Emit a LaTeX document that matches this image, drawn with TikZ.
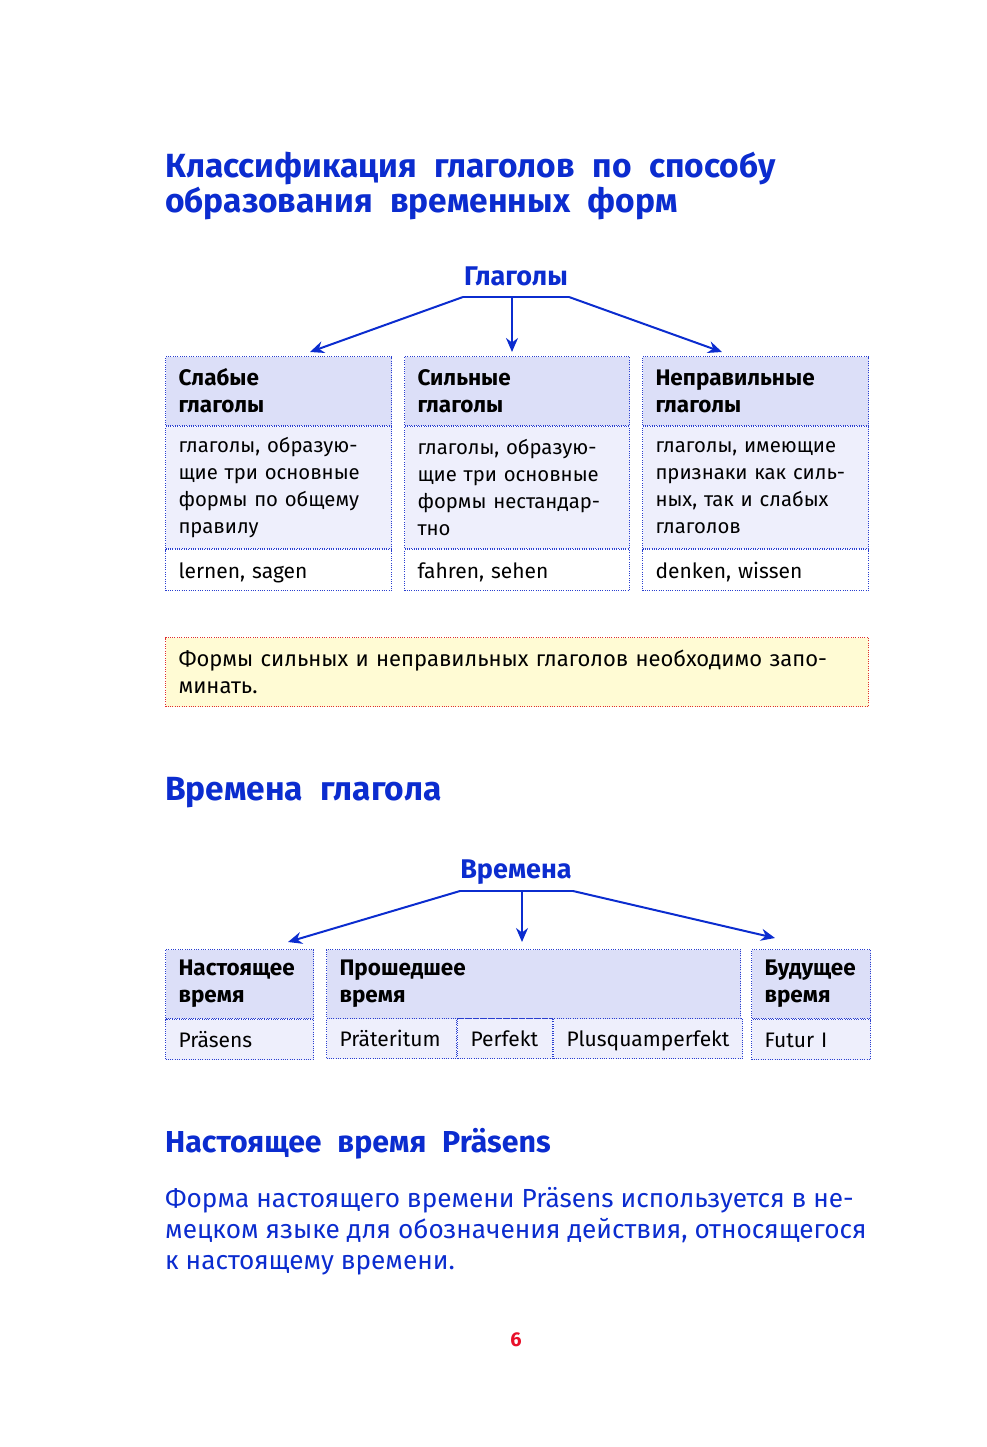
\documentclass[tikz,border=0pt]{standalone}
\usepackage{fontspec}
\setmainfont{Fira Sans}
\newfontfamily\headfont[WordSpace=2.2]{Fira Sans}
\usetikzlibrary{arrows.meta,positioning}
\definecolor{titleblue}{HTML}{0B2CCF}
\definecolor{cellline}{HTML}{2A3FD0}
\definecolor{hdrfill}{HTML}{DCDFF8}
\definecolor{bodyfill}{HTML}{EEEFFC}
\definecolor{notefill}{HTML}{FFFBD4}
\definecolor{notered}{HTML}{E03030}
\definecolor{pagered}{HTML}{E8102A}

\begin{document}
\begin{tikzpicture}[x=1pt,y=-1pt,node distance=0pt,
  title/.style={anchor=base west,inner sep=0pt,align=left,text=titleblue,
                font=\headfont\bfseries\fontsize{33.5}{35}\selectfont},
  root/.style={inner sep=0pt,text=titleblue,font=\bfseries\fontsize{27}{30}\selectfont},
  cell/.style={rectangle,draw=cellline,line width=1pt,dash pattern=on 1pt off 1.3pt,
               inner xsep=13pt,inner ysep=0pt,align=left,anchor=north west,
               font=\fontsize{20.3}{27}\selectfont},
  hdr/.style={cell,fill=hdrfill,minimum height=69pt,
              font=\bfseries\fontsize{22.5}{27}\selectfont},
  body/.style={cell,fill=bodyfill,minimum height=122pt},
  ex/.style={cell,fill=white,minimum height=41pt,text height=19pt,text depth=3pt,
             font=\fontsize{21}{27}\selectfont},
  row/.style={ex,fill=bodyfill,minimum height=40pt},
  arr/.style={draw=titleblue,line width=2pt,-{Stealth[length=14pt,width=12pt]}},
  bar/.style={draw=titleblue,line width=2pt}]
\useasboundingbox (0,0) rectangle (986,1447);

% --- classification of verbs
\node[title] (t1) at (165,213) {Классификация глаголов по способу\\образования временных форм};
\node[root] (glag) at (516,276) {Глаголы};
\coordinate (gl) at (463,297);
\coordinate (gr) at (569,297);
\coordinate (gm) at (512,297);

\node[hdr,text width=200pt] (slab) at (165,356) {Слабые\\глаголы};
\node[body,text width=200pt,below=of slab] (slabT) {глаголы, образую-\\щие три основные\\формы по общему\\правилу};
\node[ex,text width=200pt,below=of slabT] (slabE) {lernen, sagen};

\node[hdr,text width=199pt] (sil) at (404,356) {Сильные\\глаголы};
\node[body,text width=199pt,below=of sil] (silT) {глаголы, образую-\\щие три основные\\формы нестандар-\\тно};
\node[ex,text width=199pt,below=of silT] (silE) {fahren, sehen};

\node[hdr,text width=200pt] (nepr) at (642,356) {Неправильные\\глаголы};
\node[body,text width=200pt,below=of nepr] (neprT) {глаголы, имеющие\\признаки как силь-\\ных, так и слабых\\глаголов};
\node[ex,text width=200pt,below=of neprT] (neprE) {denken, wissen};

\coordinate (aSlab) at (310,352);
\coordinate (aSil) at (512,352);
\coordinate (aNepr) at (722,352);
\path[bar] (gl) -- (gr);
\path[arr] (gl) -- (aSlab);
\path[arr] (gm) -- (aSil);
\path[arr] (gr) -- (aNepr);

\node[cell,fill=notefill,draw=notered,minimum height=69pt,text width=677pt,
      font=\fontsize{22}{27}\selectfont] (note) at (165,637)
  {Формы сильных и неправильных глаголов необходимо запо-\\минать.};

% --- tenses
\node[title] (t2) at (165,800) {Времена глагола};
\node[root] (vrem) at (516,872) {Времена};
\coordinate (vl) at (460,891);
\coordinate (vr) at (573,891);
\coordinate (vm) at (522,891);

\node[hdr,text width=122pt] (nast) at (165,949) {Настоящее\\время};
\node[row,text width=122pt,below=of nast] (nastR) {Präsens};

\node[hdr,text width=388pt] (proshl) at (326,949) {Прошедшее\\время};
\node[row,text width=104pt] (prat) at (326,1018) {Präteritum};
\node[row,text width=69pt,right=of prat] (perf) {Perfekt};
\node[row,text width=163pt,right=of perf] (plusq) {Plusquamperfekt};

\node[hdr,text width=93pt] (bud) at (751,949) {Будущее\\время};
\node[row,text width=93pt,below=of bud] (budR) {Futur I};

\coordinate (aNast) at (288,942);
\coordinate (aProshl) at (522,942);
\coordinate (aBud) at (775,938);
\path[bar] (vl) -- (vr);
\path[arr] (vl) -- (aNast);
\path[arr] (vm) -- (aProshl);
\path[arr] (vr) -- (aBud);

% --- present tense
\node[title,font=\headfont\bfseries\fontsize{30.3}{32}\selectfont] (t3) at (165,1152) {Настоящее время Präsens};
\node[anchor=base west,inner sep=0pt,align=left,text=titleblue,font=\fontsize{26.2}{31}\selectfont] (par) at (165,1269)
  {Форма настоящего времени Präsens используется в не-\\мецком языке для обозначения действия, относящегося\\к настоящему времени.};
\node[text=pagered,font=\bfseries\fontsize{20}{24}\selectfont,inner sep=0pt] (page) at (516,1340) {6};
\end{tikzpicture}
\end{document}
